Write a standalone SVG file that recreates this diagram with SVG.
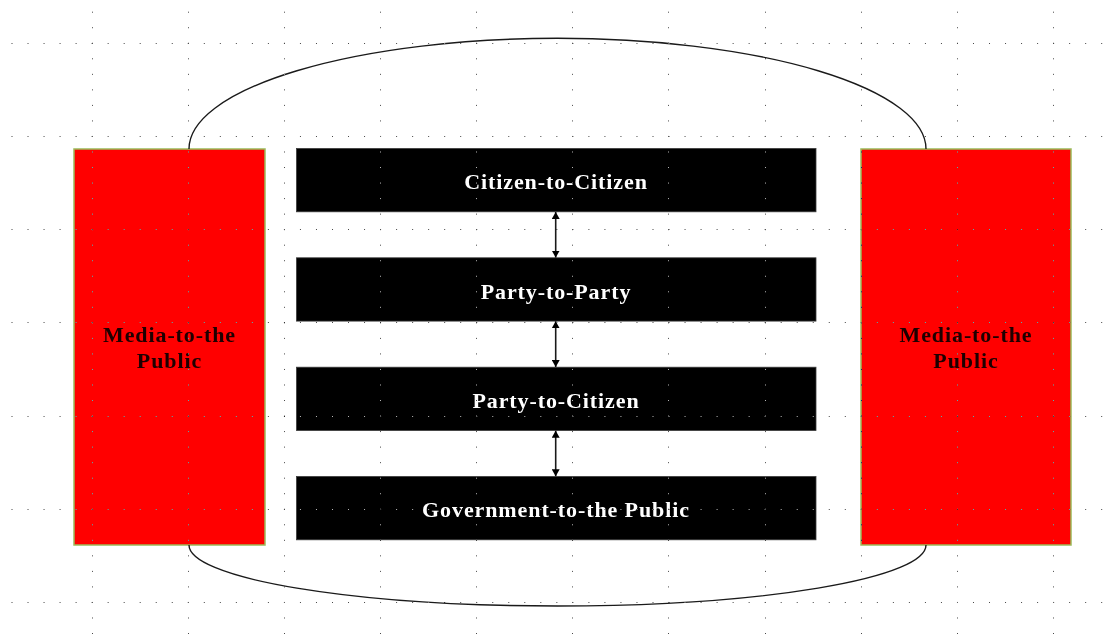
<svg xmlns="http://www.w3.org/2000/svg" width="1110" height="634" viewBox="0 0 1110 634">
  <defs>
    <marker id="tip" viewBox="0 0 7 8" refX="7" refY="4" markerWidth="7" markerHeight="8" markerUnits="userSpaceOnUse" orient="auto-start-reverse">
      <path d="M0,0 L7,4 L0,8 Z" fill="#000"/>
    </marker>
    <style>
      .media rect { fill: #ff0000; stroke: #9bbb59; stroke-width: 1.5; }
      .media text { fill: #1e0000; }
      .layer rect { fill: #000000; stroke: #3a3a3a; stroke-width: 0.8; }
      .layer text { fill: #ffffff; }
      text { font-family: "Liberation Serif", "Times New Roman", serif; font-weight: bold; font-size: 22px; letter-spacing: 0.9px; text-anchor: middle; }
      .arc { fill: none; stroke: #1a1a1a; stroke-width: 1.4; }
      .link { stroke: #1a1a1a; stroke-width: 1.6; marker-start: url(#tip); marker-end: url(#tip); }
      .grid line { stroke: #b8b8b8; stroke-width: 1; mix-blend-mode: difference; }
      .grid .col { stroke-dasharray: 1 14.533; }
      .grid .row { stroke-dasharray: 1 15.025; }
    </style>
  </defs>

  <rect x="0" y="0" width="1110" height="634" fill="#ffffff"/>

  <!-- side columns -->
  <g id="media-left" class="media">
    <rect x="74" y="149" width="191" height="396"/>
    <text x="169.5" y="341.7">Media-to-the</text>
    <text x="169.5" y="367.7">Public</text>
  </g>
  <g id="media-right" class="media">
    <rect x="861" y="149" width="210" height="396"/>
    <text x="966" y="341.7">Media-to-the</text>
    <text x="966" y="367.7">Public</text>
  </g>

  <!-- stacked layers -->
  <g id="citizen-to-citizen" class="layer">
    <rect x="296.5" y="148.5" width="519.5" height="63.3"/>
    <text x="556" y="189.3">Citizen-to-Citizen</text>
  </g>
  <g id="party-to-party" class="layer">
    <rect x="296.5" y="257.8" width="519.5" height="63.3"/>
    <text x="556" y="298.6">Party-to-Party</text>
  </g>
  <g id="party-to-citizen" class="layer">
    <rect x="296.5" y="367.2" width="519.5" height="63.3"/>
    <text x="556" y="408">Party-to-Citizen</text>
  </g>
  <g id="government-to-public" class="layer">
    <rect x="296.5" y="476.5" width="519.5" height="63.3"/>
    <text x="556" y="517.3">Government-to-the Public</text>
  </g>

  <!-- connectors -->
  <g id="connectors">
    <path class="arc" d="M189,149 A368.5,110.7 0 0 1 926,149"/>
    <path class="arc" d="M189,545 A368.5,61 0 0 0 926,545"/>
    <line class="link" x1="555.7" y1="212" x2="555.7" y2="257.6"/>
    <line class="link" x1="555.7" y1="321.3" x2="555.7" y2="367"/>
    <line class="link" x1="555.7" y1="430.7" x2="555.7" y2="476.3"/>
  </g>

  <!-- dotted drawing grid -->
  <g class="grid">
    <line class="col" x1="92.5" y1="11.7" x2="92.5" y2="634"/>
    <line class="col" x1="188.5" y1="11.7" x2="188.5" y2="634"/>
    <line class="col" x1="284.5" y1="11.7" x2="284.5" y2="634"/>
    <line class="col" x1="380.5" y1="11.7" x2="380.5" y2="634"/>
    <line class="col" x1="476.5" y1="11.7" x2="476.5" y2="634"/>
    <line class="col" x1="572.5" y1="11.7" x2="572.5" y2="634"/>
    <line class="col" x1="668.5" y1="11.7" x2="668.5" y2="634"/>
    <line class="col" x1="765.5" y1="11.7" x2="765.5" y2="634"/>
    <line class="col" x1="861.5" y1="11.7" x2="861.5" y2="634"/>
    <line class="col" x1="957.5" y1="11.7" x2="957.5" y2="634"/>
    <line class="col" x1="1053.5" y1="11.7" x2="1053.5" y2="634"/>
    <line class="row" x1="11.5" y1="43.5" x2="1110" y2="43.5"/>
    <line class="row" x1="11.5" y1="136.5" x2="1110" y2="136.5"/>
    <line class="row" x1="11.5" y1="229.5" x2="1110" y2="229.5"/>
    <line class="row" x1="11.5" y1="322.5" x2="1110" y2="322.5"/>
    <line class="row" x1="11.5" y1="416.5" x2="1110" y2="416.5"/>
    <line class="row" x1="11.5" y1="509.5" x2="1110" y2="509.5"/>
    <line class="row" x1="11.5" y1="602.5" x2="1110" y2="602.5"/>
  </g>
</svg>
